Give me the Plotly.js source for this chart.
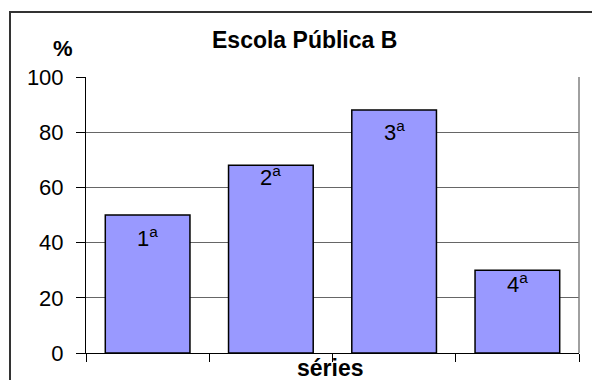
<!DOCTYPE html>
<html>
<head>
<meta charset="utf-8">
<script src="https://cdn.plot.ly/plotly-3.0.1.min.js"></script>
<style>
  html, body { margin: 0; padding: 0; width: 592px; height: 380px; overflow: hidden; background: #fff; }
  #frame { position: absolute; left: 9px; top: 11px; width: 700px; height: 500px; border: 2px solid #333; box-sizing: border-box; }
  #chart { position: absolute; left: 0; top: 0; width: 592px; height: 380px; }
</style>
</head>
<body>
<div id="frame"></div>
<div id="chart"></div>
<script>
// Preference percentages by school grade
const series = ['1ª', '2ª', '3ª', '4ª'];
const seriesLabels = ['1<sup>a</sup>', '2<sup>a</sup>', '3<sup>a</sup>', '4<sup>a</sup>'];
const percent = [50, 68, 88, 30];
const yTicks = [0, 20, 40, 60, 80, 100];

// Vertical nudge (px) of each grade label below its bar top
const labelShift = [-6, 5, -5, 3.5];

const font = 'Liberation Sans, Arial, sans-serif';

const trace = {
  type: 'bar',
  x: series,
  y: percent,
  marker: { color: '#9999FF', line: { color: '#000', width: 1.5 } },
  hoverinfo: 'x+y'
};

const barLabels = series.map((s, i) => ({
  x: s, y: percent[i], xref: 'x', yref: 'y',
  text: seriesLabels[i], showarrow: false,
  yanchor: 'top', yshift: labelShift[i],
  font: { family: font, size: 22, color: '#000' }
}));

const layout = {
  width: 592, height: 380,
  margin: { l: 86, r: 13, t: 77, b: 27 },
  paper_bgcolor: 'rgba(0,0,0,0)',
  plot_bgcolor: 'rgba(0,0,0,0)',
  showlegend: false,
  bargap: 0.313,
  xaxis: {
    type: 'category',
    showticklabels: false,
    ticks: 'outside', tickson: 'boundaries', ticklen: 8, tickwidth: 1, tickcolor: '#000',
    showline: true, linecolor: '#000', linewidth: 1,
    showgrid: false, zeroline: false, fixedrange: true
  },
  yaxis: {
    range: [0, 100],
    tickvals: yTicks,
    ticks: 'outside', ticklen: 9, tickwidth: 1, tickcolor: '#000',
    ticklabelstandoff: 8,
    tickfont: { family: font, size: 22, color: '#000' },
    showline: true, linecolor: '#000', linewidth: 1,
    showgrid: true, gridcolor: '#666', gridwidth: 1,
    zeroline: false, fixedrange: true
  },
  shapes: [
    { type: 'line', xref: 'paper', yref: 'paper', x0: 1, x1: 1, y0: 0, y1: 1,
      line: { color: '#808080', width: 1.5 } }
  ],
  annotations: [
    { text: '<b>Escola Pública B</b>', xref: 'paper', yref: 'paper', x: 0.444, y: 1.134,
      xanchor: 'center', yanchor: 'middle', showarrow: false,
      font: { family: font, size: 23, color: '#000' } },
    { text: '<b>%</b>', xref: 'paper', yref: 'paper', x: -0.0467, y: 1.105,
      xanchor: 'center', yanchor: 'middle', showarrow: false,
      font: { family: font, size: 22, color: '#000' } },
    { text: '<b>séries</b>', xref: 'paper', yref: 'paper', x: 0.495, y: -0.054,
      xanchor: 'center', yanchor: 'middle', showarrow: false,
      font: { family: font, size: 23, color: '#000' } }
  ].concat(barLabels)
};

Plotly.newPlot('chart', [trace], layout, { displayModeBar: false, staticPlot: true });
</script>
</body>
</html>
